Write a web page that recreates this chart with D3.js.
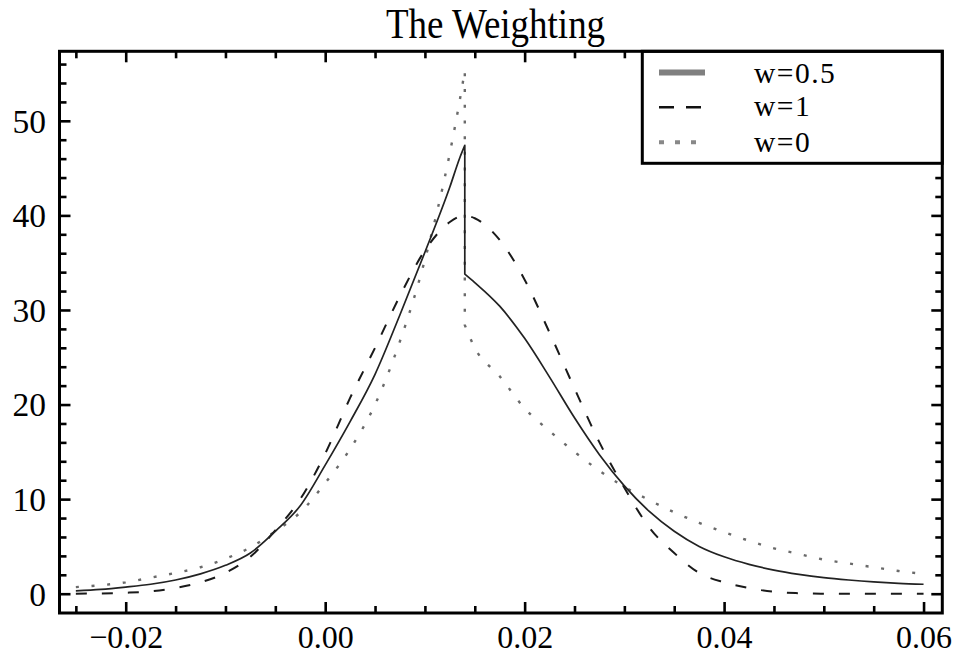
<!DOCTYPE html>
<html>
<head>
<meta charset="utf-8">
<script src="https://cdn.jsdelivr.net/npm/d3@7"></script>
<style>
  html, body { margin: 0; padding: 0; background: #fff; }
  svg { display: block; }
  text { font-family: "Liberation Serif", "Times New Roman", serif; fill: #000; }
</style>
</head>
<body>
<svg id="chart" width="953" height="655"></svg>
<script>
// ---- data -------------------------------------------------------------
const titleText = "The Weighting";

// x grid on each side of the break at x = 0.014
const xLeft  = [-0.025, -0.0225, -0.02, -0.0175, -0.015, -0.0125, -0.01, -0.0075, -0.005, -0.0025,
                0, 0.0025, 0.005, 0.0075, 0.01, 0.0125, 0.0135, 0.014];
const xRight = [0.014, 0.015, 0.0175, 0.02, 0.0225, 0.025, 0.0275, 0.03, 0.0325, 0.035,
                0.0375, 0.04, 0.0425, 0.045, 0.0475, 0.05, 0.0525, 0.055, 0.0575, 0.06];

// w = 0.5
const w05Left  = [0.3, 0.45, 0.7, 1.0, 1.45, 2.1, 3.0, 4.3, 6.6, 9.3,
                  13.6, 18.2, 23.2, 29.5, 36.1, 43.0, 46.1, 47.4];
const w05Right = [33.8, 32.9, 30.4, 27.0, 22.9, 18.6, 14.7, 11.4, 8.7, 6.6,
                  5.0, 3.9, 3.1, 2.5, 2.05, 1.7, 1.45, 1.25, 1.1, 1.0];
// w = 1
const w1Left   = [0, 0.03, 0.1, 0.25, 0.6, 1.2, 2.2, 3.9, 6.7, 10.0,
                  14.8, 20.7, 26.0, 31.5, 36.3, 39.3, 39.9, 40.0];
const w1Right  = [40.0, 39.7, 37.4, 33.2, 27.6, 21.7, 16.0, 11.2, 7.0, 4.3,
                  2.2, 1.2, 0.6, 0.2, 0.05, 0, 0, 0, 0, 0];
// w = 0
const w0Left   = [0.7, 0.9, 1.2, 1.7, 2.2, 2.8, 3.7, 4.9, 6.6, 8.6,
                  11.7, 15.3, 20.0, 26.7, 35.3, 46.6, 52.2, 55.3];
const w0Right  = [28.4, 26.0, 23.0, 19.6, 17.2, 15.0, 13.0, 11.3, 9.9, 8.6,
                  7.5, 6.5, 5.6, 4.8, 4.2, 3.6, 3.2, 2.8, 2.4, 2.1];

const xTickValues = [-0.02, 0, 0.02, 0.04, 0.06];
const xTickLabels = ["\u22120.02", "0.00", "0.02", "0.04", "0.06"];
const yTickValues = [0, 10, 20, 30, 40, 50];
const yTickLabels = ["0", "10", "20", "30", "40", "50"];
const legendLabels = ["w=0.5", "w=1", "w=0"];

// ---- layout -----------------------------------------------------------
const svg = d3.select("#chart");
const frame = { left: 59.5, right: 942.3, top: 51.3, bottom: 613 };

const x = d3.scaleLinear().domain([-0.02664, 0.06188]).range([frame.left, frame.right]);
const y = d3.scaleLinear().domain([-2.04, 57.35]).range([frame.bottom, frame.top]);

const xMinor = d3.range(-25, 61, 5).map(v => v / 1000)
  .filter(v => !xTickValues.some(m => Math.abs(m - v) < 1e-9));
const yMinor = d3.range(2, 57, 2).filter(v => v % 10 !== 0);

const MAJOR = 11, MINOR = 7;

// ---- curves -----------------------------------------------------------
const line = d3.line()
  .x(d => x(d[0]))
  .y(d => y(d[1]))
  .curve(d3.curveMonotoneX);

// left branch, vertical jump at the break, right branch — one continuous path
function piecewisePath(xl, vl, xr, vr) {
  const a = line(xl.map((v, i) => [v, vl[i]]));
  const b = line(xr.map((v, i) => [v, vr[i]]));
  return a + "L" + b.slice(1);
}

const series = [
  { name: "w=0",   left: w0Left,  right: w0Right,  stroke: "#6a6a6a", width: 2.4, dash: "3,12.7" },
  { name: "w=1",   left: w1Left,  right: w1Right,  stroke: "#1a1a1a", width: 2.0, dash: "11,15" },
  { name: "w=0.5", left: w05Left, right: w05Right, stroke: "#222",    width: 1.7, dash: null }
];

const plot = svg.append("g");
series.forEach(s => {
  plot.append("path")
    .attr("d", piecewisePath(xLeft, s.left, xRight, s.right))
    .attr("fill", "none")
    .attr("stroke", s.stroke)
    .attr("stroke-width", s.width)
    .attr("stroke-dasharray", s.dash)
    .attr("stroke-linejoin", "round");
});

// ---- axes (ticks point inward on all four sides) ----------------------
function styleAxis(g) {
  g.select(".domain").remove();
  g.selectAll(".tick line").attr("stroke", "#000").attr("stroke-width", 2.6);
}

// bottom, labelled
const gBottom = svg.append("g").attr("transform", `translate(0,${frame.bottom})`)
  .call(d3.axisBottom(x).tickValues(xTickValues)
    .tickFormat((d, i) => xTickLabels[i]).tickSizeInner(-MAJOR).tickSizeOuter(0).tickPadding(0))
  .call(styleAxis);
gBottom.selectAll(".tick text")
  .attr("y", 0).attr("dy", null)
  .attr("transform", "translate(0,35)")
  .attr("font-size", 32)
  .attr("font-family", '"Liberation Serif","Times New Roman",serif');
svg.append("g").attr("transform", `translate(0,${frame.bottom})`)
  .call(d3.axisBottom(x).tickValues(xMinor).tickFormat("").tickSizeInner(-MINOR).tickSizeOuter(0))
  .call(styleAxis);

// top, unlabelled
svg.append("g").attr("transform", `translate(0,${frame.top})`)
  .call(d3.axisTop(x).tickValues(xTickValues).tickFormat("").tickSizeInner(-MAJOR).tickSizeOuter(0))
  .call(styleAxis);
svg.append("g").attr("transform", `translate(0,${frame.top})`)
  .call(d3.axisTop(x).tickValues(xMinor).tickFormat("").tickSizeInner(-MINOR).tickSizeOuter(0))
  .call(styleAxis);

// left, labelled
const gLeft = svg.append("g").attr("transform", `translate(${frame.left},0)`)
  .call(d3.axisLeft(y).tickValues(yTickValues)
    .tickFormat((d, i) => yTickLabels[i]).tickSizeInner(-MAJOR).tickSizeOuter(0).tickPadding(0))
  .call(styleAxis);
gLeft.selectAll(".tick text")
  .attr("x", -13.5).attr("dy", null).attr("y", 11.3)
  .attr("font-size", 33.5)
  .attr("font-family", '"Liberation Serif","Times New Roman",serif');
svg.append("g").attr("transform", `translate(${frame.left},0)`)
  .call(d3.axisLeft(y).tickValues(yMinor).tickFormat("").tickSizeInner(-MINOR).tickSizeOuter(0))
  .call(styleAxis);

// right, unlabelled
svg.append("g").attr("transform", `translate(${frame.right},0)`)
  .call(d3.axisRight(y).tickValues(yTickValues).tickFormat("").tickSizeInner(-MAJOR).tickSizeOuter(0))
  .call(styleAxis);
svg.append("g").attr("transform", `translate(${frame.right},0)`)
  .call(d3.axisRight(y).tickValues(yMinor).tickFormat("").tickSizeInner(-MINOR).tickSizeOuter(0))
  .call(styleAxis);

// ---- legend (tucked into the top-right corner) -----------------------
const legend = { left: 642.3, bottom: 163.3 };
const lg = svg.append("g");
lg.append("rect")
  .attr("x", legend.left).attr("y", frame.top)
  .attr("width", frame.right - legend.left).attr("height", legend.bottom - frame.top)
  .attr("fill", "#fff").attr("stroke", "#000").attr("stroke-width", 3);

const legendKeys = [
  { stroke: "#808080", width: 6,   dash: null,    y: 72.5,  base: 82.5 },
  { stroke: "#111",    width: 2.4, dash: "15,12", y: 107.3, base: 115.5 },
  { stroke: "#888",    width: 4,   dash: "5,11",  y: 142.3, base: 151.7 }
];
legendKeys.forEach((k, i) => {
  lg.append("line")
    .attr("x1", 659).attr("x2", 705)
    .attr("y1", k.y).attr("y2", k.y)
    .attr("stroke", k.stroke).attr("stroke-width", k.width)
    .attr("stroke-dasharray", k.dash);
  lg.append("text")
    .attr("x", 754).attr("y", k.base)
    .attr("font-size", 29.5)
    .attr("letter-spacing", 1.5)
    .text(legendLabels[i]);
});

// ---- frame -------------------------------------------------------------
svg.append("rect")
  .attr("x", frame.left).attr("y", frame.top)
  .attr("width", frame.right - frame.left).attr("height", frame.bottom - frame.top)
  .attr("fill", "none").attr("stroke", "#000").attr("stroke-width", 3);

// ---- title -------------------------------------------------------------
svg.append("text")
  .attr("transform", "translate(495.5,38) scale(1,1.12)")
  .attr("text-anchor", "middle")
  .attr("font-size", 37)
  .text(titleText);
</script>
</body>
</html>
